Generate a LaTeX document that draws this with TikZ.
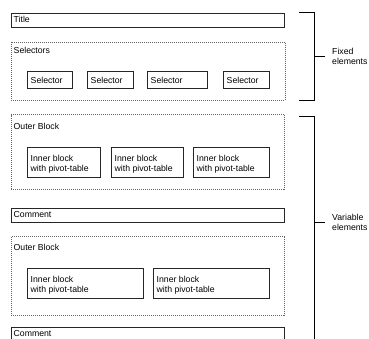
\documentclass[tikz,border=0pt]{standalone}
\usepackage{fontspec}
\setmainfont{Liberation Sans}
\usetikzlibrary{positioning}

\begin{document}
\begin{tikzpicture}[x=1pt,y=-1pt]
\tikzset{
  every node/.style={font=\fontsize{8.7}{10}\selectfont},
  solidbox/.style={rectangle,draw=black!85,line width=0.9pt,anchor=north west,inner sep=0pt},
  dotbox/.style={rectangle,draw=black!60,line width=0.9pt,dash pattern=on 1pt off 1pt,anchor=north west,inner sep=0pt},
  linebox/.style={solidbox,minimum height=14pt,text depth=0pt},
  selbox/.style={solidbox,minimum height=17pt},
  innerbox/.style={solidbox,minimum height=30.5pt,align=left},
  boxlabel/.style={anchor=west,inner sep=0pt},
  sidelabel/.style={anchor=west,inner sep=0pt,align=left},
  bracket/.style={line width=0.9pt,black}
}
\clip (0,0) rectangle (369,339);
\fill[white] (0,0) rectangle (369,339);
% fixed part
\node[linebox,minimum width=273pt] (title) at (11,12.7) {};
\node[boxlabel] (l_title) at (13.5,19.7) {Title};
\node[dotbox,minimum width=274pt,minimum height=58pt] (selectors) at (11,42) {};
\node[boxlabel] (l_selectors) at (13.5,50.5) {Selectors};
\node[selbox,minimum width=45pt] (sel1) at (27,71) {};
\node[selbox,minimum width=46pt] (sel2) at (87,71) {};
\node[selbox,minimum width=60pt] (sel3) at (147,71) {};
\node[selbox,minimum width=46pt] (sel4) at (223,71) {};
\foreach \s in {sel1,sel2,sel3,sel4}
  \node[boxlabel] at ([xshift=3.5pt]\s.west) {Selector};
% variable part
\node[dotbox,minimum width=273pt,minimum height=74.5pt] (outer1) at (11,114.5) {};
\node[boxlabel] (l_outer1) at (13.5,126) {Outer Block};
\node[innerbox,minimum width=73pt] (in1a) at (27,146.7) {};
\node[innerbox,minimum width=72pt] (in1b) at (111,146.7) {};
\node[innerbox,minimum width=76pt] (in1c) at (193,146.7) {};
\node[linebox,minimum width=273pt] (comment1) at (11,207.5) {};
\node[boxlabel] (l_comment1) at (13.5,214.5) {Comment};
\node[dotbox,minimum width=273pt,minimum height=79.3pt] (outer2) at (11,235.7) {};
\node[boxlabel] (l_outer2) at (13.5,247) {Outer Block};
\node[innerbox,minimum width=116pt] (in2a) at (27,267.7) {};
\node[innerbox,minimum width=116pt] (in2b) at (153,267.7) {};
\foreach \b in {in1a,in1b,in1c,in2a,in2b}
  \node[sidelabel] at ([xshift=3.5pt,yshift=-1.5pt]\b.west) {Inner block\\with pivot-table};
\node[linebox,minimum width=273pt] (comment2) at (11,326.7) {};
\node[boxlabel] (l_comment2) at (13.5,333.5) {Comment};
% brackets
\coordinate (fix_top) at (299,12.7);
\coordinate (fix_bot) at (299,100);
\coordinate (fix_mid) at (314,56);
\node[sidelabel] (fixed) at (332,56) {Fixed\\elements};
\draw[bracket] (fix_top) -- (314,12.7) -- (314,100) -- (fix_bot);
\draw[bracket] (fix_mid) -- ([xshift=-7pt]fixed.west);
\coordinate (var_top) at (299,116);
\coordinate (var_mid) at (314,222.5);
\node[sidelabel] (variable) at (332,222.5) {Variable\\elements};
\draw[bracket] (var_top) -- (314,116) -- (314,345);
\draw[bracket] (var_mid) -- ([xshift=-7pt]variable.west);
\end{tikzpicture}
\end{document}
